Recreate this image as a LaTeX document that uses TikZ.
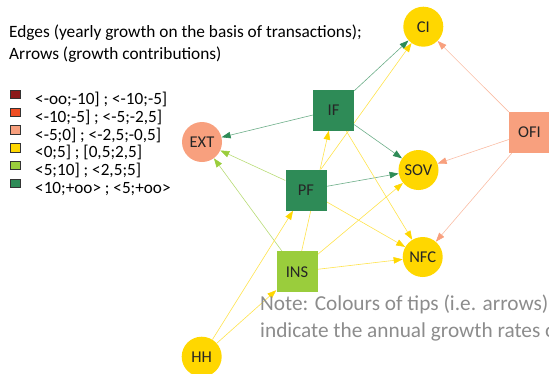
\documentclass[tikz,border=0pt]{standalone}
\usepackage{fontspec}
\setmainfont{Carlito}
\usepackage{xcolor}
\usetikzlibrary{arrows.meta, backgrounds}
\definecolor{grDarkRed}{HTML}{8B1A1A}
\definecolor{grRed}{HTML}{F04E23}
\definecolor{grSalmon}{HTML}{F8A07E}
\definecolor{grYellow}{HTML}{FFD700}
\definecolor{grLime}{HTML}{9ACD3C}
\definecolor{grGreen}{HTML}{2E8B57}
\definecolor{noteGray}{HTML}{8C8C8C}

\begin{document}
\begin{tikzpicture}[
  x=1pt, y=-1pt,
  sector/.style={draw=none, inner sep=0pt, text=black!85, font=\fontsize{16.5}{16.5}\selectfont},
  circ/.style={sector, circle, minimum size=40pt, fill=#1},
  box/.style={sector, rectangle, minimum size=41pt, fill=#1},
  flow/.style={draw=#1!70, line width=0.6pt, -{Triangle[length=9pt, width=6.5pt, color=#1]}},
  key/.style={draw=black!80, line width=0.5pt, fill=#1, minimum width=10pt, minimum height=8.5pt, inner sep=0pt},
  keytext/.style={anchor=base west, inner sep=0pt, font=\fontsize{17.2}{17.2}\selectfont}
]
\useasboundingbox (0,0) rectangle (549,373);
\clip (0,0) rectangle (549,373);

\node[anchor=base west, inner sep=0pt, font=\fontsize{17.3}{17.3}\selectfont] (title1) at (9,37.3) {Edges (yearly growth on the basis of transactions);};
\node[anchor=base west, inner sep=0pt, font=\fontsize{17.3}{17.3}\selectfont] (title2) at (9,59) {Arrows (growth contributions)};

\node[key=grDarkRed] (key1) at (15,94.2) {};
\node[key=grRed] (key2) at (15,112) {};
\node[key=grSalmon] (key3) at (15,129.8) {};
\node[key=grYellow] (key4) at (15,147.6) {};
\node[key=grLime] (key5) at (15,165.4) {};
\node[key=grGreen] (key6) at (15,183.2) {};
\node[keytext] (lab1) at (35,104.5) {<-oo;-10] ; <-10;-5]};
\node[keytext] (lab2) at (35,122.3) {<-10;-5] ; <-5;-2,5]};
\node[keytext] (lab3) at (35,140.1) {<-5;0] ; <-2,5;-0,5]};
\node[keytext] (lab4) at (35,157.9) {<0;5] ; [0,5;2,5]};
\node[keytext] (lab5) at (35,175.7) {<5;10] ; <2,5;5]};
\node[keytext] (lab6) at (35,193.5) {<10;+oo> ; <5;+oo>};

\node[circ=grYellow] (CI) at (423.3,26.7) {CI};
\node[box=grGreen] (IF) at (333.5,110) {IF};
\node[circ=grSalmon] (EXT) at (202,142) {EXT};
\node[box=grSalmon] (OFI) at (529.5,132.5) {OFI};
\node[circ=grYellow] (SOV) at (418.5,170) {SOV};
\node[box=grGreen] (PF) at (306,190) {PF};
\node[box=grLime] (INS) at (297,271.7) {INS};
\node[circ=grYellow] (NFC) at (422.7,257) {NFC};
\node[circ=grYellow] (HH) at (201.7,356.7) {HH};

\node[anchor=base west, inner sep=0pt, align=left, text=noteGray, font=\fontsize{21.3}{27}\selectfont] (note) at (260,337.3) {Note: Colours of tips (i.e. arrows)\\indicate the annual growth rates of};

\begin{scope}[on background layer]
\draw[flow=grGreen] (IF) -- (CI);
\draw[flow=grYellow] (PF) -- (CI);
\draw[flow=grSalmon] (OFI) -- (CI);
\draw[flow=grGreen] (IF) -- (EXT);
\draw[flow=grLime] (PF) -- (EXT);
\draw[flow=grLime] (INS) -- (EXT);
\draw[flow=grGreen] (IF) -- (SOV);
\draw[flow=grGreen] (PF) -- (SOV);
\draw[flow=grYellow] (INS) -- (SOV);
\draw[flow=grSalmon] (OFI) -- (SOV);
\draw[flow=grYellow] (IF) -- (NFC);
\draw[flow=grYellow] (PF) -- (NFC);
\draw[flow=grYellow] (INS) -- (NFC);
\draw[flow=grSalmon] (OFI) -- (NFC);
\draw[flow=grYellow] (INS) -- (IF);
\draw[flow=grYellow] (HH) -- (PF);
\draw[flow=grYellow] (HH) -- (INS);
\end{scope}
\end{tikzpicture}
\end{document}
